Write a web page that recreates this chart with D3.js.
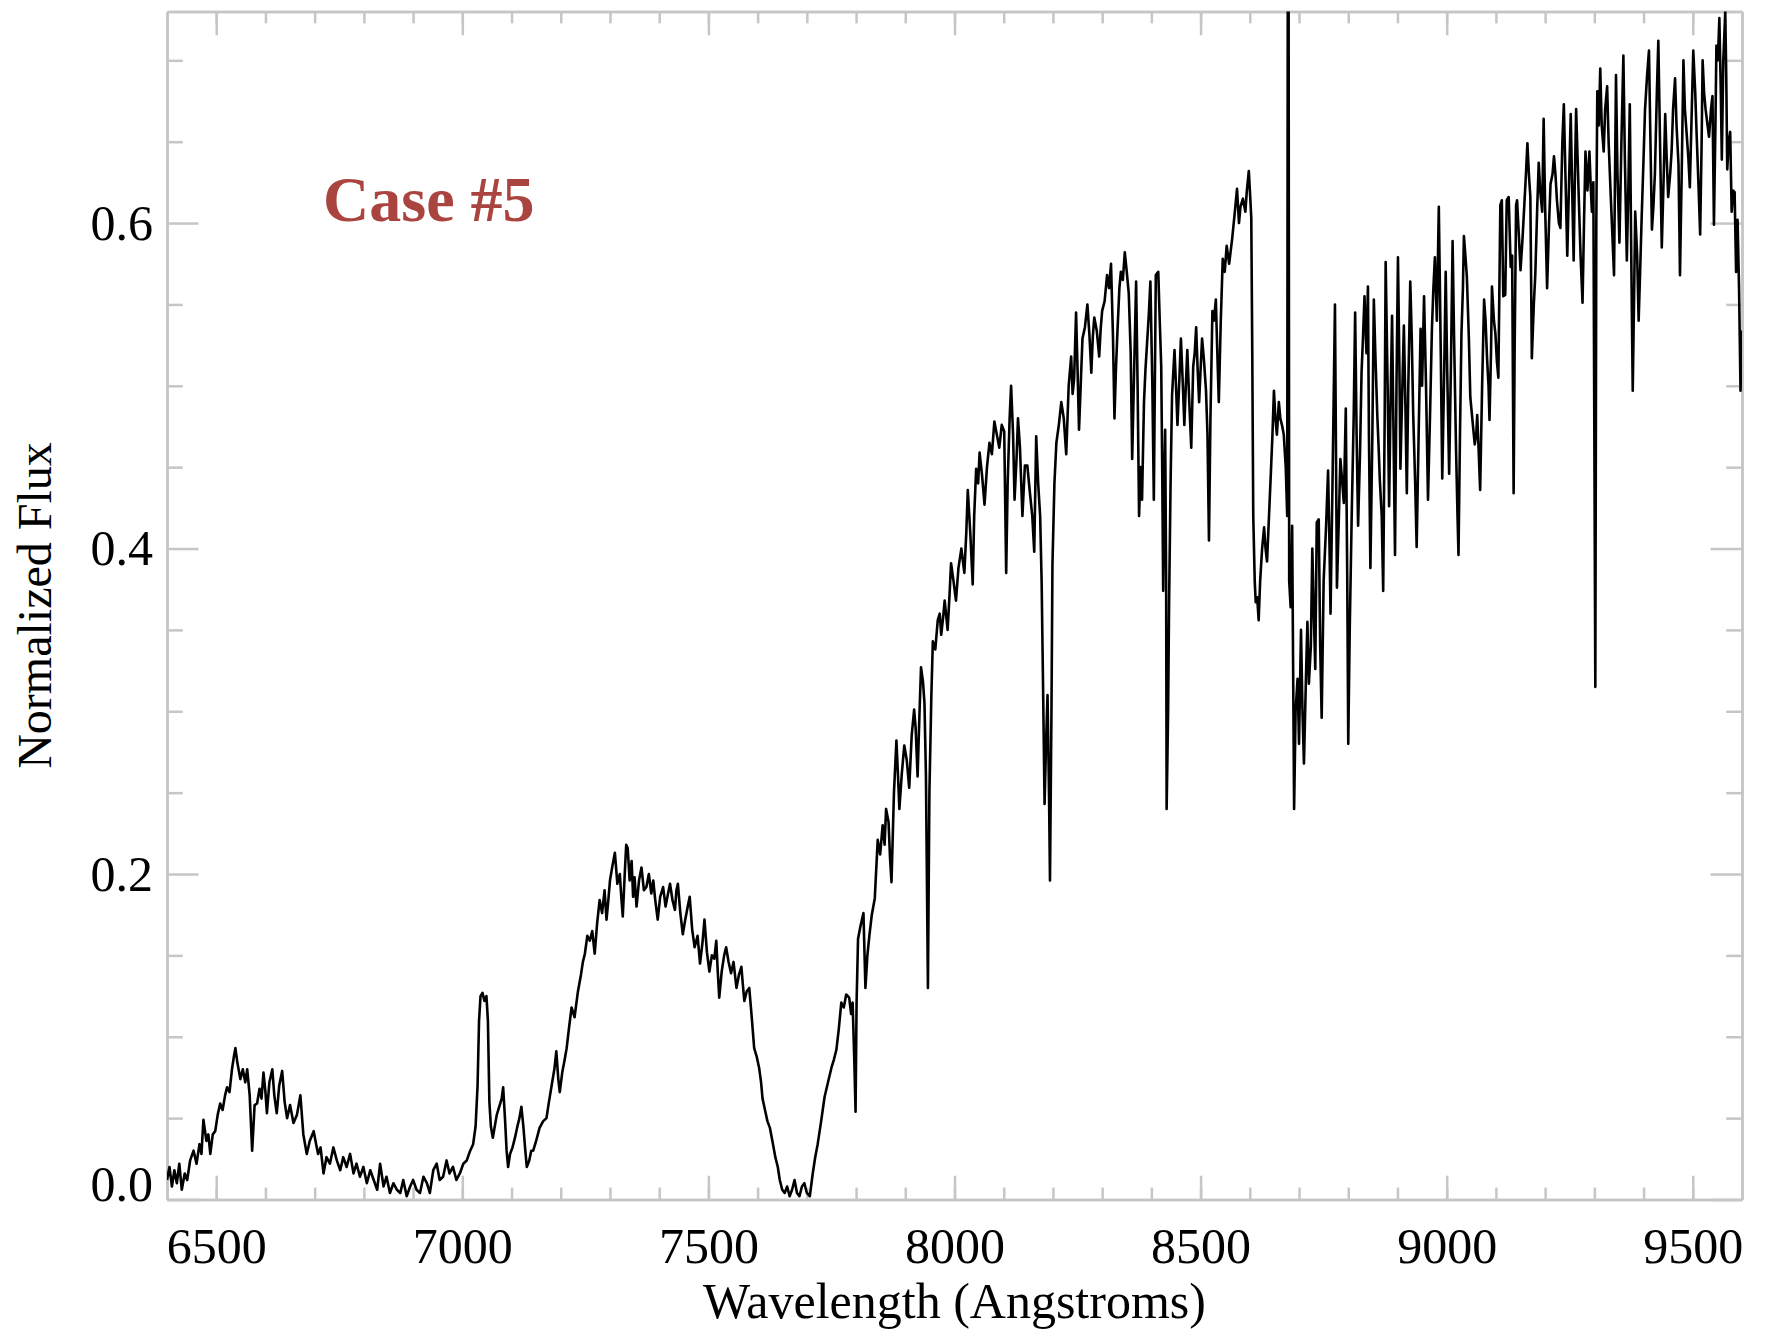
<!DOCTYPE html>
<meta charset="utf-8">
<style>
body { margin: 0; background: #fff; }
.frame path, .frame line { stroke: #c6c6c6; stroke-width: 2.5; }
.frame text { font-family: "Liberation Serif", "Times New Roman", serif; font-size: 50px; fill: #000; }
.spectrum { fill: none; stroke: #000; stroke-width: 2.6; stroke-linejoin: round; }
.title { font-family: "Liberation Serif", "Times New Roman", serif; font-size: 50px; fill: #000; }
.case { font-family: "Liberation Serif", "Times New Roman", serif; font-size: 64px; font-weight: bold; fill: #a9443f; }
</style>
<svg id="chart" width="1766" height="1336"></svg>
<script src="https://cdn.jsdelivr.net/npm/d3@7"></script>
<script>

// wavelength (Angstroms), normalized flux
var specHalpha = [
  [6400,0.012],[6405,0.020],[6410,0.008],[6415,0.018],[6420,0.010],[6425,0.022],[6430,0.006],[6436,0.016],
  [6441,0.012],[6447,0.024],[6454,0.030],[6460,0.022],[6466,0.034],[6470,0.028],[6474,0.049],[6480,0.036],
  [6484,0.040],[6488,0.028],[6493,0.040],[6498,0.042],[6503,0.052],[6508,0.059],[6513,0.055],[6518,0.064],
  [6522,0.069],[6527,0.066],[6532,0.080],[6536,0.088],[6539,0.093],[6543,0.084],[6549,0.074],[6554,0.080],
  [6559,0.072],[6563,0.080],[6568,0.064],[6573,0.030],[6578,0.058],[6583,0.059],[6588,0.068],[6592,0.062],
  [6596,0.078],[6600,0.066],[6603,0.053],[6608,0.072],[6614,0.080],[6618,0.064],[6623,0.053],[6628,0.070],
  [6634,0.079],[6639,0.060],[6644,0.050],[6650,0.058],[6657,0.047],[6664,0.052],[6671,0.064],[6677,0.040],
  [6684,0.028],[6690,0.036],[6698,0.042],[6703,0.034],[6707,0.028],[6712,0.032],[6718,0.016],[6724,0.026],
  [6731,0.022],[6738,0.032],[6745,0.024],[6752,0.018],[6758,0.026],[6765,0.020],[6772,0.028],[6779,0.016],
  [6785,0.022],[6792,0.014],[6799,0.020],[6806,0.010],[6813,0.018],[6820,0.012],[6827,0.006],[6833,0.022],
  [6840,0.008],[6846,0.014],[6853,0.004],[6860,0.010],[6867,0.006],[6874,0.004],[6880,0.012],[6887,0.002],
  [6894,0.008],[6900,0.012],[6907,0.006],[6914,0.004],[6921,0.014],[6928,0.010],[6934,0.004],[6941,0.018],
  [6948,0.022],[6954,0.012],[6961,0.014],[6968,0.024],[6974,0.016],[6981,0.020],[6988,0.012],[6995,0.016]
];

var specTiO = [
  [7002,0.022],[7009,0.024],[7016,0.030],[7022,0.034],[7027,0.045],[7031,0.070],[7034,0.110],[7037,0.125],
  [7041,0.127],[7045,0.122],[7049,0.125],[7052,0.110],[7055,0.060],[7058,0.045],[7062,0.038],[7066,0.045],
  [7070,0.052],[7076,0.058],[7080,0.062],[7083,0.069],[7087,0.048],[7090,0.030],[7093,0.020],[7097,0.028],
  [7102,0.032],[7107,0.038],[7112,0.045],[7116,0.050],[7120,0.057],[7124,0.045],[7128,0.030],[7131,0.020],
  [7136,0.024],[7140,0.030],[7144,0.030],[7150,0.036],[7157,0.044],[7164,0.048],[7171,0.050],[7176,0.060],
  [7182,0.071],[7187,0.080],[7191,0.091],[7195,0.074],[7198,0.066],[7203,0.078],[7208,0.086],[7212,0.093],
  [7217,0.106],[7222,0.118],[7228,0.112],[7235,0.128],[7241,0.138],[7245,0.146],[7249,0.151],[7254,0.162],
  [7259,0.159],[7264,0.165],[7269,0.151],[7274,0.170],[7279,0.184],[7284,0.176],[7289,0.190],[7293,0.172],
  [7297,0.185],[7300,0.196],[7305,0.205],[7310,0.213],[7315,0.194],[7320,0.200],[7323,0.186],[7326,0.174],
  [7330,0.200],[7333,0.218],[7336,0.216],[7340,0.196],[7344,0.208],[7347,0.186],[7350,0.198],[7354,0.180],
  [7359,0.196],[7364,0.204],[7369,0.190],[7374,0.192],[7379,0.200],[7384,0.188],[7388,0.196],[7392,0.184],
  [7397,0.172],[7402,0.186],[7408,0.192],[7413,0.180],[7418,0.188],[7422,0.194],[7427,0.184],[7432,0.178],
  [7435,0.190],[7438,0.194],[7443,0.176],[7448,0.163],[7453,0.172],[7458,0.180],[7462,0.186],[7467,0.166],
  [7472,0.155],[7478,0.162],[7483,0.145],[7488,0.158],[7492,0.172],[7497,0.152],[7502,0.140],[7507,0.150],
  [7512,0.148],[7516,0.159],[7519,0.140],[7522,0.124],[7527,0.140],[7532,0.150],[7536,0.155],[7541,0.146],
  [7546,0.139],[7551,0.146],[7557,0.130],[7562,0.138],[7567,0.143],[7570,0.132],[7573,0.122],[7578,0.128],
  [7583,0.130],[7588,0.112],[7593,0.093],[7598,0.088],[7603,0.081],[7607,0.072],[7610,0.062],[7615,0.055],
  [7620,0.048],[7625,0.044],[7630,0.036],[7636,0.026],[7641,0.020],[7645,0.012],[7650,0.006],[7655,0.004],
  [7660,0.008],[7665,0.002],[7670,0.006],[7675,0.012],[7680,0.004],[7685,0.002],[7690,0.008],[7695,0.010],
  [7700,0.004],[7706,0.002]
];

var specRise = [
  [7712,0.016],[7717,0.026],[7722,0.034],[7729,0.048],[7736,0.063],[7743,0.072],[7750,0.081],[7755,0.086],
  [7760,0.092],[7765,0.105],[7770,0.121],[7775,0.118],[7780,0.126],[7786,0.124],[7790,0.114],[7793,0.121],
  [7796,0.090],[7799,0.054],[7801,0.120],[7804,0.160],[7809,0.168],[7815,0.176],[7819,0.130],[7823,0.150],
  [7827,0.162],[7832,0.175],[7838,0.185],[7844,0.221],[7849,0.212],[7854,0.230],[7858,0.218],[7861,0.240],
  [7866,0.232],[7869,0.210],[7872,0.195],[7877,0.250],[7882,0.282],[7885,0.262],[7888,0.240],[7893,0.262],
  [7898,0.279],[7903,0.270],[7908,0.253],[7913,0.285],[7918,0.301],[7921,0.290],[7925,0.260],[7929,0.300],
  [7932,0.327],[7936,0.318],[7939,0.305],[7942,0.260],[7946,0.130],[7949,0.250],[7953,0.310],[7956,0.343],
  [7961,0.338],[7966,0.356],[7970,0.360],[7973,0.347],[7977,0.358],[7980,0.368],[7986,0.350],[7990,0.372],
  [7993,0.391],[7998,0.380],[8003,0.368],[8008,0.388],[8014,0.400],[8020,0.385],[8024,0.410],[8027,0.436],
  [8032,0.410],[8037,0.378],[8040,0.420],[8044,0.449],[8048,0.440],[8051,0.459],[8056,0.445],[8061,0.427],
  [8066,0.450],[8071,0.465],[8076,0.458],[8081,0.478],[8086,0.470],[8091,0.462],[8096,0.476],[8101,0.472],
  [8105,0.385],[8108,0.440],[8112,0.480],[8115,0.500],[8119,0.470],[8122,0.430],[8126,0.455],[8129,0.480],
  [8133,0.462],[8138,0.420],[8143,0.451],[8148,0.451],[8153,0.435],[8158,0.420],[8162,0.398],[8166,0.469],
  [8170,0.440],[8174,0.420],[8177,0.380],[8180,0.314],[8183,0.243],[8186,0.280],[8189,0.310],[8192,0.250],
  [8194,0.196],[8197,0.300],[8199,0.390]
];

var specCaII = [
  [8203,0.440],[8207,0.465],[8212,0.476],[8217,0.490],[8222,0.480],[8227,0.458],[8232,0.500],[8237,0.518],
  [8240,0.495],[8243,0.504],[8247,0.545],[8250,0.510],[8253,0.473],[8257,0.505],[8260,0.529],[8265,0.536],
  [8270,0.550],[8274,0.532],[8278,0.508],[8281,0.530],[8284,0.542],[8289,0.534],[8294,0.518],[8297,0.535],
  [8300,0.546],[8305,0.552],[8310,0.568],[8314,0.560],[8318,0.575],[8322,0.530],[8325,0.480],[8328,0.510],
  [8331,0.533],[8335,0.560],[8338,0.570],[8342,0.565],[8346,0.582],[8350,0.570],[8354,0.557],[8358,0.520],
  [8361,0.455],[8365,0.510],[8369,0.564],[8372,0.500],[8375,0.420],[8378,0.450],[8381,0.430],[8385,0.490],
  [8388,0.510],[8391,0.525],[8395,0.545],[8398,0.564],[8402,0.500],[8405,0.430],[8409,0.568],[8414,0.570],
  [8417,0.540],[8420,0.512],[8422,0.450],[8424,0.374],[8426,0.440],[8428,0.473],[8430,0.380],[8431,0.240],
  [8434,0.300],[8436,0.367],[8439,0.440],[8442,0.494],[8447,0.522],[8450,0.500],[8453,0.476],[8457,0.505],
  [8460,0.529],[8464,0.500],[8467,0.476],[8470,0.500],[8473,0.522],[8477,0.490],[8481,0.462],[8485,0.512],
  [8488,0.520],[8491,0.536],[8494,0.510],[8497,0.490],[8500,0.510],[8503,0.529],[8507,0.515],[8511,0.497],
  [8514,0.470],[8517,0.405],[8520,0.480],[8524,0.546],[8527,0.540],[8531,0.553],[8534,0.520],[8537,0.490],
  [8541,0.540],[8545,0.578],[8549,0.570],[8553,0.586],[8558,0.575],[8564,0.590],[8569,0.605],[8574,0.621],
  [8578,0.600],[8581,0.610],[8586,0.615],[8591,0.607],[8594,0.620],[8598,0.632],[8601,0.615],[8603,0.603],
  [8605,0.520],[8607,0.420],[8610,0.380],[8612,0.367],[8615,0.370],[8618,0.356],[8621,0.380],[8625,0.400],
  [8629,0.413],[8632,0.400],[8635,0.392],[8639,0.420],[8643,0.448],[8646,0.470],[8649,0.497],[8652,0.480],
  [8655,0.470],[8659,0.490],[8662,0.480],[8666,0.475],[8669,0.470],[8673,0.450],[8676,0.420],[8678,1.000],
  [8680,0.380],[8683,0.364],[8686,0.414],[8690,0.240],[8693,0.300],[8697,0.320]
];

var specRed = [
  [8700,0.280],[8704,0.350],[8707,0.300],[8710,0.268],[8714,0.320],[8717,0.355],[8720,0.317],[8724,0.340],
  [8727,0.400],[8730,0.360],[8733,0.326],[8736,0.416],[8740,0.418],[8743,0.340],[8746,0.296],[8750,0.380],
  [8755,0.414],[8759,0.448],[8762,0.400],[8764,0.360],[8768,0.440],[8773,0.550],[8777,0.376],[8781,0.420],
  [8784,0.455],[8788,0.440],[8791,0.428],[8795,0.486],[8798,0.380],[8800,0.280],[8803,0.350],[8807,0.420],
  [8811,0.480],[8814,0.545],[8817,0.470],[8820,0.414],[8824,0.460],[8827,0.508],[8830,0.530],[8833,0.555],
  [8837,0.520],[8840,0.561],[8842,0.470],[8845,0.388],[8849,0.470],[8852,0.553],[8855,0.520],[8859,0.482],
  [8862,0.460],[8864,0.443],[8868,0.420],[8871,0.374],[8874,0.480],[8876,0.576],[8880,0.500],[8883,0.426],
  [8886,0.490],[8889,0.543],[8892,0.470],[8895,0.396],[8898,0.500],[8901,0.579],[8904,0.510],[8906,0.449],
  [8910,0.500],[8913,0.537],[8916,0.490],[8919,0.434],[8922,0.500],[8926,0.564],[8929,0.530],[8932,0.482],
  [8936,0.440],[8939,0.401],[8943,0.470],[8947,0.535],[8950,0.500],[8954,0.555],[8958,0.500],[8962,0.430],
  [8966,0.480],[8970,0.535],[8973,0.560],[8976,0.579],[8980,0.540],[8984,0.610],[8988,0.520],[8991,0.443],
  [8995,0.510],[8998,0.570],[9001,0.510],[9005,0.446],[9009,0.520],[9012,0.589],[9015,0.530],[9019,0.461],
  [9022,0.420],[9024,0.396],[9027,0.470],[9030,0.532],[9033,0.560],[9035,0.592],[9038,0.580],[9041,0.567],
  [9045,0.530],[9048,0.493],[9052,0.480],[9057,0.464],[9060,0.470],[9062,0.482],[9065,0.460],[9068,0.436],
  [9072,0.500],[9076,0.553],[9079,0.540],[9082,0.517],[9085,0.500],[9087,0.479],[9090,0.520],[9092,0.561],
  [9096,0.540],[9099,0.532],[9102,0.515],[9105,0.505],[9109,0.611],[9112,0.614],[9115,0.555],[9119,0.556],
  [9122,0.614],[9126,0.616],[9130,0.573],[9133,0.580],[9136,0.434],[9138,0.520],[9141,0.611],[9143,0.614],
  [9147,0.590],[9150,0.571],[9154,0.590],[9157,0.607],[9161,0.630],[9164,0.649],[9167,0.630],[9170,0.616],
  [9173,0.517],[9177,0.550],[9180,0.568],[9184,0.610],[9187,0.637],[9190,0.620],[9194,0.607],[9197,0.664],
  [9200,0.610],[9204,0.560],[9208,0.600],[9211,0.624],[9215,0.630],[9218,0.641],[9221,0.630],[9224,0.614],
  [9228,0.600],[9231,0.597],[9235,0.650],[9238,0.673],[9242,0.620],[9245,0.580],[9249,0.630],[9252,0.667],
  [9255,0.620],[9258,0.577],[9260,0.620],[9263,0.670],[9266,0.640],[9268,0.619],[9272,0.580],[9276,0.551],
  [9279,0.600],[9282,0.644],[9286,0.620],[9290,0.644],[9293,0.620],[9295,0.607],[9298,0.625],[9302,0.315],
  [9304,0.600],[9306,0.681],[9309,0.660],[9312,0.695],[9315,0.660],[9319,0.644],[9322,0.670],[9326,0.684],
  [9329,0.650],[9333,0.619],[9337,0.590],[9340,0.568],[9344,0.691],[9347,0.630],[9351,0.588],[9355,0.650],
  [9359,0.703],[9362,0.640],[9366,0.577],[9369,0.620],[9372,0.673],[9375,0.580],[9378,0.497],[9381,0.560],
  [9383,0.607],[9387,0.580],[9390,0.540],[9393,0.570],[9396,0.602],[9400,0.640],[9403,0.670],[9407,0.690],
  [9411,0.706],[9414,0.650],[9417,0.596],[9420,0.610],[9423,0.630],[9427,0.680],[9430,0.712],[9434,0.640],
  [9437,0.585],[9441,0.630],[9444,0.667],[9447,0.640],[9450,0.616],[9454,0.630],[9457,0.644],[9460,0.670],
  [9464,0.689],[9467,0.660],[9471,0.636],[9474,0.568],[9478,0.640],[9481,0.700],[9484,0.670],[9488,0.653],
  [9491,0.640],[9494,0.622],[9498,0.670],[9501,0.706],[9505,0.680],[9508,0.653],[9512,0.620],[9515,0.593],
  [9518,0.650],[9520,0.700],[9523,0.680],[9526,0.670],[9530,0.660],[9533,0.653],[9537,0.670],[9540,0.678],
  [9543,0.599],[9546,0.660],[9548,0.709],[9551,0.700],[9554,0.726],[9557,0.680],[9559,0.639],[9562,0.700],
  [9566,0.730],[9568,0.690],[9570,0.633],[9573,0.650],[9576,0.656],[9579,0.607],[9582,0.620],[9585,0.619],
  [9588,0.570],[9591,0.602],[9594,0.560],[9597,0.497],[9600,0.534]
];

var xMajor = [6500, 7000, 7500, 8000, 8500, 9000, 9500];
var xMinor = [6500, 6600, 6700, 6800, 6900, 7000, 7100, 7200, 7300, 7400, 7500, 7600, 7700, 7800,
              7900, 8000, 8100, 8200, 8300, 8400, 8500, 8600, 8700, 8800, 8900, 9000, 9100, 9200,
              9300, 9400, 9500];
var yMajor = [0.0, 0.2, 0.4, 0.6];
var yMinor = [0.05, 0.1, 0.15, 0.25, 0.3, 0.35, 0.45, 0.5, 0.55, 0.65, 0.7];

var spectrum = specHalpha.concat(specTiO, specRise, specCaII, specRed);

var svg = d3.select("#chart");
var plotL = 167, plotR = 1742, plotT = 11.5, plotB = 1199.5;

var x = d3.scaleLinear().domain([6400, 9600]).range([plotL, plotR]);
var y = d3.scaleLinear().domain([0, 0.73]).range([plotB, plotT]);

svg.append("defs").append("clipPath").attr("id", "plotclip")
  .append("rect")
    .attr("x", plotL).attr("y", plotT)
    .attr("width", plotR - plotL).attr("height", plotB - plotT);

var xTick = 0.02 * (plotB - plotT), yTick = 0.02 * (plotR - plotL);

// minor ticks first, then major ticks with labels
function frameAxis(axis, pos, cls) {
  svg.append("g")
    .attr("class", "frame " + (cls || ""))
    .attr("transform", pos)
    .call(axis)
    .attr("font-family", null).attr("font-size", null);
}

frameAxis(d3.axisBottom(x).tickValues(xMinor).tickSize(-xTick / 2).tickSizeOuter(0).tickFormat(""), "translate(0," + plotB + ")");
frameAxis(d3.axisTop(x).tickValues(xMinor).tickSize(-xTick / 2).tickSizeOuter(0).tickFormat(""), "translate(0," + plotT + ")");
frameAxis(d3.axisBottom(x).tickValues(xMajor).tickSize(-xTick).tickSizeOuter(0).tickPadding(28).tickFormat(d3.format("d")), "translate(0," + plotB + ")");
frameAxis(d3.axisTop(x).tickValues(xMajor).tickSize(-xTick).tickSizeOuter(0).tickFormat(""), "translate(0," + plotT + ")");

frameAxis(d3.axisLeft(y).tickValues(yMinor).tickSize(-yTick / 2).tickSizeOuter(0).tickFormat(""), "translate(" + plotL + ",0)");
frameAxis(d3.axisRight(y).tickValues(yMinor).tickSize(-yTick / 2).tickSizeOuter(0).tickFormat(""), "translate(" + plotR + ",0)");
frameAxis(d3.axisLeft(y).tickValues(yMajor).tickSize(-yTick).tickSizeOuter(0).tickPadding(14).tickFormat(d3.format(".1f")), "translate(" + plotL + ",0)", "yleft");
frameAxis(d3.axisRight(y).tickValues(yMajor).tickSize(-yTick).tickSizeOuter(0).tickFormat(""), "translate(" + plotR + ",0)");

// the 0.0 label sits a bit above the bottom edge
svg.selectAll(".yleft .tick text").filter(function(d) { return d === 0; }).attr("y", -15);

svg.append("path")
  .datum(spectrum)
  .attr("class", "spectrum")
  .attr("clip-path", "url(#plotclip)")
  .attr("d", d3.line().x(function(d) { return x(d[0]); }).y(function(d) { return y(d[1]); }));

svg.append("text")
  .attr("class", "title")
  .attr("x", (plotL + plotR) / 2).attr("y", 1318)
  .attr("text-anchor", "middle")
  .text("Wavelength (Angstroms)");

svg.append("text")
  .attr("class", "title")
  .attr("transform", "translate(51," + (plotT + plotB) / 2 + ") rotate(-90)")
  .attr("text-anchor", "middle")
  .style("font-size", "48px")
  .text("Normalized Flux");

svg.append("text")
  .attr("class", "case")
  .attr("x", 323).attr("y", 221)
  .text("Case #5");

</script>
